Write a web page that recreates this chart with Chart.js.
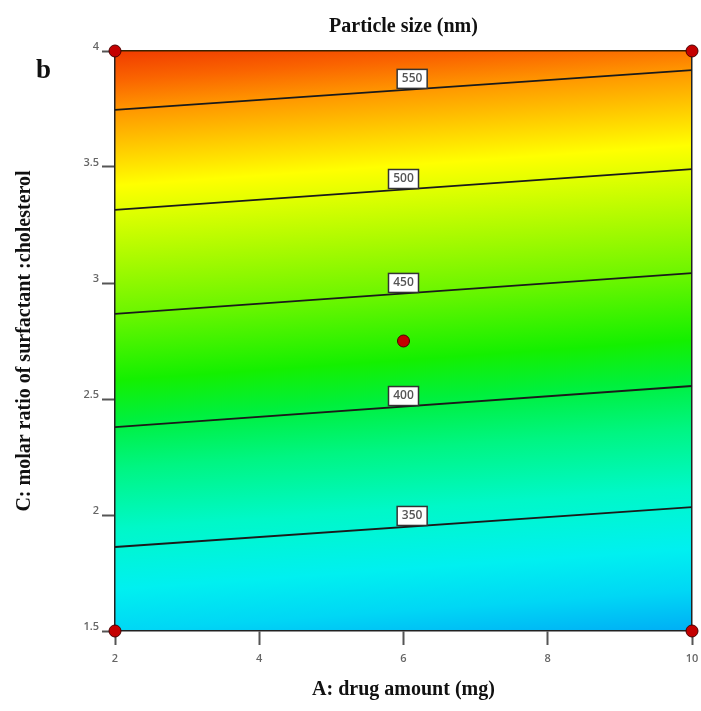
<!DOCTYPE html>
<html>
<head>
<meta charset="utf-8">
<script src="https://cdn.jsdelivr.net/npm/chart.js@4.4.1/dist/chart.umd.min.js"></script>
<style>
  body { margin: 0; background: #fff; }
  #wrap { width: 701px; height: 711px; }
</style>
</head>
<body>
<div id="wrap"><canvas id="contour"></canvas></div>
<script>
// axis ranges and ticks
var xTicks = [2, 4, 6, 8, 10];
var yTicks = [1.5, 2, 2.5, 3, 3.5, 4];

// contour lines, read as C value at A = 2 and A = 10
var contourLevels = [350, 400, 450, 500, 550];
var contourLeftC  = [1.862, 2.379, 2.867, 3.315, 3.746];
var contourRightC = [2.034, 2.556, 3.043, 3.491, 3.918];
var contourLabelA = [6.12, 6, 6, 6, 6.12];

// design points
var designA = [2, 10, 2, 10, 6];
var designC = [4, 4, 1.5, 1.5, 2.75];

// colour shading, C value along the left edge -> colour
var shadeC = [4.0, 3.875, 3.746, 3.62, 3.495, 3.42, 3.29, 3.10, 2.84, 2.58, 2.41, 2.20, 1.94, 1.68, 1.50, 1.33];
var shadeColors = ['#f03c00', '#fa6400', '#ff9600', '#ffbe00', '#ffe600', '#ffff00', '#dcff00', '#aafa00',
                   '#64f500', '#14f000', '#00f03c', '#00f582', '#00f8c8', '#00f0f0', '#00d7f5', '#00aff5'];

var xMin = xTicks[0], xMax = xTicks[xTicks.length - 1];
var yMin = yTicks[0], yMax = yTicks[yTicks.length - 1];

var serif = '"Liberation Serif", "Times New Roman", serif';
var tickFont = {family: '"Open Sans", sans-serif', size: 11, weight: '600'};

var datasets = [{
  type: 'scatter',
  data: designA.map(function (a, i) { return {x: a, y: designC[i]}; }),
  pointRadius: 6,
  pointBackgroundColor: '#c40000',
  pointBorderColor: '#4a0000',
  pointBorderWidth: 1,
  clip: false
}];
contourLevels.forEach(function (lv, i) {
  datasets.push({
    type: 'line',
    label: String(lv),
    data: [{x: xMin, y: contourLeftC[i]}, {x: xMax, y: contourRightC[i]}],
    borderColor: '#1a1a1a',
    borderWidth: 1.8,
    pointRadius: 0,
    fill: false
  });
});

var shadePlugin = {
  id: 'shade',
  beforeDraw: function (chart) {
    var ctx = chart.ctx, a = chart.chartArea, x = chart.scales.x, y = chart.scales.y;
    // tilt of the contours in pixels
    var s = 0;
    for (var i = 0; i < contourLevels.length; i++) {
      s += y.getPixelForValue(contourRightC[i]) - y.getPixelForValue(contourLeftC[i]);
    }
    var tilt = -s / contourLevels.length / (x.getPixelForValue(xMax) - x.getPixelForValue(xMin));
    var x0 = x.getPixelForValue(xMin), y0 = y.getPixelForValue(yMax);
    var D = y.getPixelForValue(shadeC[shadeC.length - 1]) - y0;
    var k = 1 + tilt * tilt;
    var g = ctx.createLinearGradient(x0, y0, x0 + tilt * D, y0 + D);
    shadeC.forEach(function (c, j) {
      var t = (y.getPixelForValue(c) - y0) / (D * k);
      g.addColorStop(Math.max(0, Math.min(1, t)), shadeColors[j]);
    });
    ctx.save();
    ctx.fillStyle = g;
    ctx.fillRect(a.left, a.top, a.right - a.left, a.bottom - a.top);
    ctx.restore();
  }
};

var labelPlugin = {
  id: 'contourLabels',
  afterDatasetsDraw: function (chart) {
    var ctx = chart.ctx, x = chart.scales.x, y = chart.scales.y;
    ctx.save();
    ctx.font = '600 12px "Open Sans", sans-serif';
    ctx.textAlign = 'center';
    ctx.textBaseline = 'middle';
    contourLevels.forEach(function (lv, i) {
      var t = (contourLabelA[i] - xMin) / (xMax - xMin);
      var c = contourLeftC[i] + t * (contourRightC[i] - contourLeftC[i]);
      var px = x.getPixelForValue(contourLabelA[i]);
      var py = y.getPixelForValue(c);
      var w = 30, h = 19;
      ctx.fillStyle = '#ffffff';
      ctx.fillRect(px - w / 2, py - h - 1, w, h);
      ctx.strokeStyle = '#333';
      ctx.lineWidth = 1.5;
      ctx.strokeRect(px - w / 2, py - h - 1, w, h);
      ctx.fillStyle = '#555';
      ctx.fillText(String(lv), px, py - h / 2 - 1);
    });
    ctx.restore();
  },
  afterDraw: function (chart) {
    var ctx = chart.ctx;
    ctx.save();
    ctx.font = 'bold 27px ' + serif;
    ctx.fillStyle = '#111';
    ctx.textBaseline = 'alphabetic';
    ctx.fillText('b', 36, 78);
    ctx.restore();
  }
};

function setTicks(arr) {
  return function (scale) { scale.ticks = arr.map(function (v) { return {value: v}; }); };
}
function plainLabel(v) { return String(v); }

new Chart(document.getElementById('contour'), {
  data: {datasets: datasets},
  options: {
    responsive: true,
    maintainAspectRatio: false,
    animation: false,
    layout: {padding: 0, autoPadding: false},
    plugins: {legend: {display: false}, tooltip: {enabled: false}},
    scales: {
      x: {
        type: 'linear', position: 'bottom', min: xMin, max: xMax,
        afterBuildTicks: setTicks(xTicks),
        afterFit: function (s) { s.height = 80; s.paddingLeft = 0; s.paddingRight = 0; },
        ticks: {color: '#666', font: tickFont, padding: 7, callback: plainLabel},
        grid: {drawOnChartArea: false, tickLength: 14, color: '#555', tickWidth: 2},
        border: {color: '#222', width: 1.5},
        title: {display: true, text: 'A: drug amount (mg)', color: '#111',
                font: {family: serif, size: 20, weight: 'bold'}, padding: {top: 0, bottom: 9}}
      },
      x2: {
        type: 'linear', position: 'top', min: xMin, max: xMax,
        afterFit: function (s) { s.height = 51; s.paddingLeft = 0; s.paddingRight = 0; },
        ticks: {display: false},
        grid: {display: false},
        border: {color: '#3a2200', width: 1.5},
        title: {display: true, text: 'Particle size (nm)', color: '#111',
                font: {family: serif, size: 20, weight: 'bold'}, padding: {top: 15, bottom: 0}}
      },
      y: {
        type: 'linear', position: 'left', min: yMin, max: yMax,
        afterBuildTicks: setTicks(yTicks),
        afterFit: function (s) { s.width = 115; s.paddingTop = 0; s.paddingBottom = 0; },
        ticks: {color: '#666', font: tickFont, padding: 3, labelOffset: -4, callback: plainLabel},
        grid: {drawOnChartArea: false, tickLength: 13, color: '#555', tickWidth: 2},
        border: {color: '#222', width: 1.5},
        title: {display: true, text: 'C: molar ratio of surfactant :cholesterol', color: '#111',
                font: {family: serif, size: 20, weight: 'bold'}, padding: {top: 13, bottom: 0}}
      },
      y2: {
        type: 'linear', position: 'right', min: yMin, max: yMax,
        afterFit: function (s) { s.width = 9; },
        ticks: {display: false},
        grid: {display: false},
        border: {color: '#222', width: 1.5}
      }
    }
  },
  plugins: [shadePlugin, labelPlugin]
});
</script>
</body>
</html>
